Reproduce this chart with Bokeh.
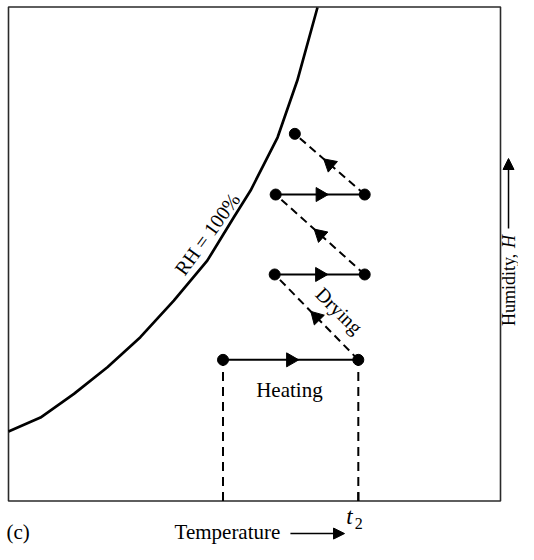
import numpy as np
from bokeh.plotting import figure
from bokeh.models import Range1d, Arrow, NormalHead
from bokeh.core.properties import value
from bokeh.embed import file_html
from bokeh.resources import INLINE

# ---- data (temperature axis 0-100, humidity axis 0-100) ----
# saturation curve RH = 100 %
curve_t = [0, 6.5, 13.3, 20.1, 26.8, 33.6, 40.4, 45.8, 49.2, 54.7, 58.7, 62.8]
curve_h = [14.1, 16.9, 21.7, 27.1, 33.2, 40.6, 48.7, 57.5, 62.9, 73.7, 85.2, 100]

# heating steps (constant humidity)
heat_t0 = [43.6, 54.1, 54.3]
heat_t1 = [71.1, 72.4, 72.4]
heat_h = [28.6, 45.9, 62.1]

# drying steps (from end of each heating step to the next state)
dry_t1 = [54.1, 54.3, 58.2]
dry_h1 = [45.9, 62.1, 74.4]

# temperatures marked on the temperature axis
temp_marks = [43.6, 71.1]

FONT = value("Liberation Serif")
W, H = 518, 544
XS, YS = 4.92, 4.935          # px per unit
X0, Y0 = 8, 500.5             # pixel position of (0, 0)

p = figure(width=W, height=H, output_backend="svg", toolbar_location=None,
           x_range=Range1d(-X0 / XS, (W - X0) / XS),
           y_range=Range1d((Y0 - H) / YS, Y0 / YS),
           x_axis_type=None, y_axis_type=None, min_border=0)
p.min_border_left = p.min_border_right = p.min_border_top = p.min_border_bottom = 0
p.outline_line_color = None
p.grid.visible = False
p.background_fill_color = "white"
p.border_fill_color = "white"

# frame box
p.quad(left=[0], right=[100], bottom=[0], top=[100.1], fill_color=None,
       line_color="#2a2a2a", line_width=1.6)

# saturation curve
p.line(curve_t, curve_h, line_width=2.7, color="black", line_join="round")

# dashed verticals down to the temperature axis + ticks
n = len(temp_marks)
p.segment(temp_marks, [0] * n, temp_marks, [heat_h[0]] * n,
          line_width=2, color="black", line_dash="9 6")
p.segment(temp_marks, [0] * n, temp_marks, [1.8] * n, line_width=2, color="black")

# heating lines
p.segment(heat_t0, heat_h, heat_t1, heat_h, line_width=2, color="black")
# drying lines
p.segment(heat_t1, heat_h, dry_t1, dry_h1, line_width=2, color="black", line_dash="8 5")

# arrow triangles at midpoints
ht = np.array(heat_t0); ht1 = np.array(heat_t1); hh = np.array(heat_h)
mx = (ht + ht1) / 2
p.scatter(mx, hh, marker="triangle", size=14, color="black",
          angle=[-np.pi / 2] * len(mx))
dt1 = np.array(dry_t1); dh1 = np.array(dry_h1)
dmx = (ht1 + dt1) / 2
dmy = (hh + dh1) / 2
dang = np.arctan2((dh1 - hh) * YS, (dt1 - ht1) * XS) - np.pi / 2
p.scatter(dmx, dmy, marker="triangle", size=14, color="black", angle=dang)

# state points
pt_x = heat_t0 + heat_t1 + [dry_t1[-1]]
pt_y = heat_h + heat_h + [dry_h1[-1]]
p.scatter(pt_x, pt_y, size=11, color="black")

# labels inside the box
p.text(x=[40.4], y=[54.1], text=["RH = 100%"], angle=[np.radians(54)],
       text_font=FONT, text_font_size="20px", text_align="center",
       text_baseline="middle", text_color="black")
p.text(x=[67.2], y=[38.6], text=["Drying"], angle=[np.radians(-45)],
       text_font=FONT, text_font_size="20px", text_align="center",
       text_baseline="middle", text_color="black")
p.text(x=[57.1], y=[22.4], text=["Heating"], text_font=FONT, text_font_size="21px",
       text_align="center", text_baseline="middle", text_color="black")

# labels outside the box
p.text(x=[69.3], y=[-3.14], text=["t"], text_font=FONT, text_font_size="23px",
       text_font_style="italic", text_align="center", text_baseline="middle")
p.text(x=[71.2], y=[-4.66], text=["2"], text_font=FONT, text_font_size="16px",
       text_align="center", text_baseline="middle")
p.text(x=[-0.4], y=[-6.38], text=["(c)"], text_font=FONT, text_font_size="21px",
       text_align="left", text_baseline="middle")
p.text(x=[44.5], y=[-6.38], text=["Temperature"], text_font=FONT, text_font_size="21px",
       text_align="center", text_baseline="middle")
p.add_layout(Arrow(end=NormalHead(size=11, fill_color="black", line_color="black"),
                   x_start=57.3, y_start=-6.6, x_end=68.3, y_end=-6.6,
                   line_width=1.5, line_color="black"))

p.text(x=[101.63], y=[35.46], text=["Humidity, "], angle=[np.pi / 2], text_font=FONT,
       text_font_size="18px", text_align="left", text_baseline="middle")
p.text(x=[101.63], y=[51.27], text=["H"], angle=[np.pi / 2], text_font=FONT,
       text_font_size="18px", text_font_style="italic", text_align="left",
       text_baseline="middle")
p.add_layout(Arrow(end=NormalHead(size=11, fill_color="black", line_color="black"),
                   x_start=101.63, y_start=55.2, x_end=101.63, y_end=69.4,
                   line_width=1.5, line_color="black"))

open("out.html", "w").write(file_html(p, INLINE))
